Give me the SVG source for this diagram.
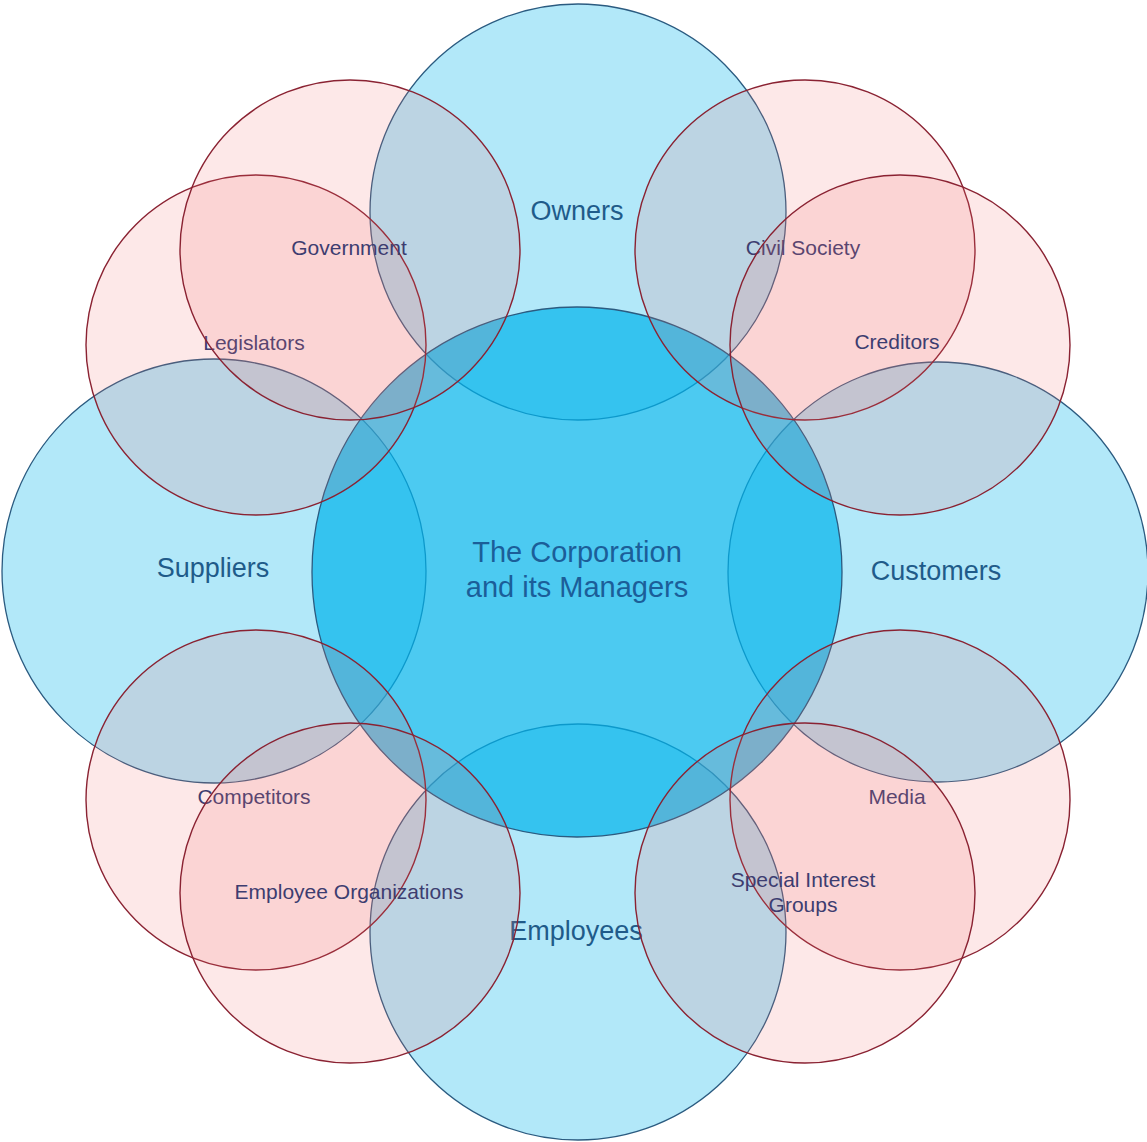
<svg xmlns="http://www.w3.org/2000/svg" width="1147" height="1142" viewBox="0 0 1147 1142">
<style>
.blue{fill:#00b4eb;fill-opacity:0.3;stroke:#2b5b80;stroke-width:1.3}
.core{fill:#00b4eb;fill-opacity:0.7;stroke:#2b5b80;stroke-width:1.3}
.red{fill:#f06e6e;fill-opacity:0.16;stroke:#8a2232;stroke-width:1.4}
.big{font-family:"Liberation Sans",Arial,sans-serif;font-size:27px;fill:#1f5b8a;text-anchor:middle}
.ctr{font-family:"Liberation Sans",Arial,sans-serif;font-size:29px;fill:#1b5e99;text-anchor:middle}
.sm{font-family:"Liberation Sans",Arial,sans-serif;font-size:21px;fill:#3d3d70;text-anchor:middle}
</style>
<rect width="1147" height="1142" fill="#ffffff"/>
<g id="connectors"/>
<g id="owners"><circle class="blue" cx="578" cy="212" r="208"/><text class="big" x="577" y="220">Owners</text></g>
<g id="suppliers"><circle class="blue" cx="214" cy="571" r="212"/><text class="big" x="213" y="577">Suppliers</text></g>
<g id="customers"><circle class="blue" cx="938" cy="572" r="210"/><text class="big" x="936" y="580">Customers</text></g>
<g id="employees"><circle class="blue" cx="578" cy="932" r="208"/><text class="big" x="576" y="940">Employees</text></g>
<g id="corporation"><circle class="core" cx="577" cy="572" r="265"/><text class="ctr" x="577" y="562">The Corporation</text><text class="ctr" x="577" y="597">and its Managers</text></g>
<g id="legislators"><circle class="red" cx="256" cy="345" r="170"/><text class="sm" x="254" y="350">Legislators</text></g>
<g id="government"><circle class="red" cx="350" cy="250" r="170"/><text class="sm" x="349" y="255">Government</text></g>
<g id="civil-society"><circle class="red" cx="805" cy="250" r="170"/><text class="sm" x="803" y="255">Civil Society</text></g>
<g id="creditors"><circle class="red" cx="900" cy="345" r="170"/><text class="sm" x="897" y="349">Creditors</text></g>
<g id="competitors"><circle class="red" cx="256" cy="800" r="170"/><text class="sm" x="254" y="804">Competitors</text></g>
<g id="employee-organizations"><circle class="red" cx="350" cy="893" r="170"/><text class="sm" x="349" y="899">Employee Organizations</text></g>
<g id="media"><circle class="red" cx="900" cy="800" r="170"/><text class="sm" x="897" y="804">Media</text></g>
<g id="special-interest-groups"><circle class="red" cx="805" cy="893" r="170"/><text class="sm" x="803" y="887">Special Interest</text><text class="sm" x="803" y="912">Groups</text></g>
</svg>
